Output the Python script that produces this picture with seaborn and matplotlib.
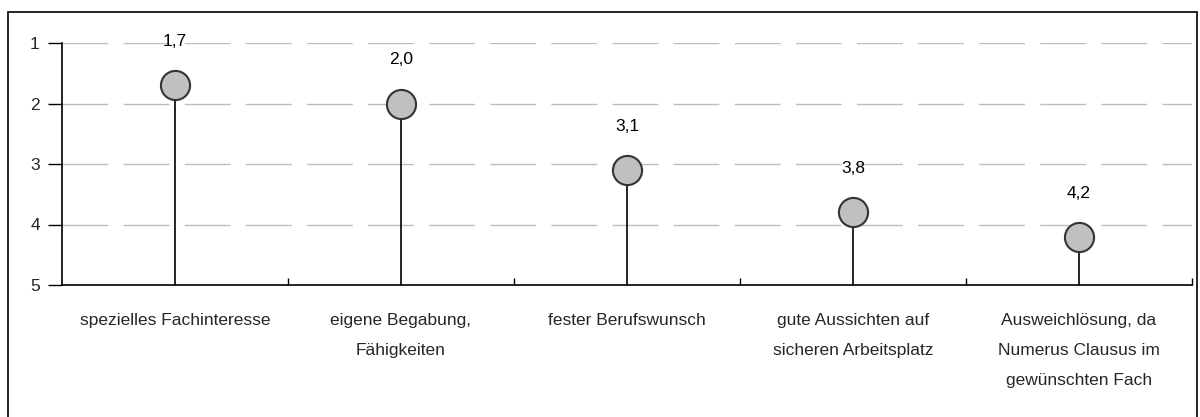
import matplotlib
matplotlib.use("Agg")
import matplotlib.pyplot as plt
from matplotlib.patches import Rectangle
from matplotlib import font_manager
import seaborn as sns
import pandas as pd

categories = ["spezielles Fachinteresse", "eigene Begabung,\nFähigkeiten", "fester Berufswunsch",
              "gute Aussichten auf\nsicheren Arbeitsplatz",
              "Ausweichlösung, da\nNumerus Clausus im\ngewünschten Fach"]
values = [1.7, 2.0, 3.1, 3.8, 4.2]
value_labels = ["1,7", "2,0", "3,1", "3,8", "4,2"]
yticks = [1, 2, 3, 4, 5]

sns.set_theme(style="white")
names = {f.name for f in font_manager.fontManager.ttflist}
fam = "Liberation Sans Narrow" if "Liberation Sans Narrow" in names else "Liberation Sans"
plt.rcParams["font.family"] = [fam, "DejaVu Sans"]

df = pd.DataFrame({"cat": categories, "val": values})

fig = plt.figure(figsize=(12, 4.17), dpi=100)
fig.patches.append(Rectangle((8/1200, -0.1), (1197-8)/1200, 1.1 - 12/417, transform=fig.transFigure,
                             fill=False, edgecolor="black", linewidth=1.2))
ax = fig.add_axes([62/1200, 1-285/417, (1192-62)/1200, (285-43)/417])

x = list(range(len(categories)))
ax.vlines(x, [5]*len(x), values, color="black", linewidth=1.2, zorder=2)
sns.scatterplot(data=df, x="cat", y="val", ax=ax, s=440, color="#c0c0c0",
                edgecolor="#333333", linewidth=1.5, zorder=3, legend=False)
for xi, v, lab in zip(x, values, value_labels):
    ax.text(xi, v - 0.72, lab, ha="center", va="center", fontsize=12.5, color="black", clip_on=False)

ax.set_ylim(5, 1)
ax.set_xlim(-0.5, len(categories) - 0.5)
ax.set_yticks(yticks)
ax.set_yticklabels([str(t) for t in yticks], fontsize=12.5)
for t in yticks[:-1]:
    ax.axhline(t, color="#bdbdbd", linewidth=1, dashes=(33, 11), zorder=1)
ax.set_xticks(x)
ax.set_xticklabels(categories, fontsize=12.5, linespacing=2.25, va="top")
ax.tick_params(axis="x", which="major", length=0, pad=20)
ax.set_xticks([i + 0.5 for i in x], minor=True)
ax.tick_params(axis="x", which="minor", direction="in", length=5, width=1, color="black", bottom=True)
ax.tick_params(axis="y", direction="out", length=10, width=1, color="black", left=True, pad=6)
ax.set_xlabel("")
ax.set_ylabel("")
for s in ["top", "right"]:
    ax.spines[s].set_visible(False)
ax.spines["left"].set_color("black")
ax.spines["bottom"].set_color("black")
ax.spines["left"].set_linewidth(1.2)
ax.spines["bottom"].set_linewidth(1.2)

fig.savefig("out.png", dpi=100)
